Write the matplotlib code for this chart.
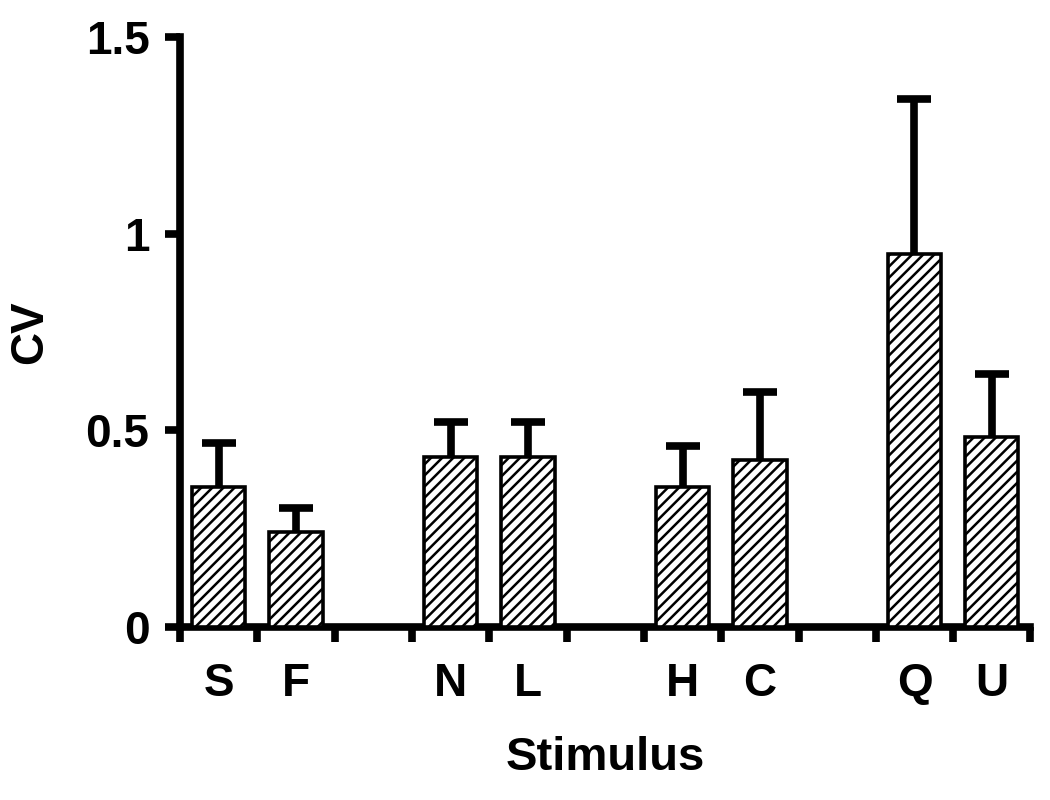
import numpy as np
import matplotlib
matplotlib.use("Agg")
import matplotlib.pyplot as plt

stimuli = ["S", "F", "N", "L", "H", "C", "Q", "U"]
cv_mean = [0.355, 0.242, 0.433, 0.433, 0.356, 0.425, 0.947, 0.483]
cv_err = [0.113, 0.061, 0.089, 0.089, 0.105, 0.173, 0.394, 0.161]

plt.rcParams["font.family"] = ["Liberation Sans", "DejaVu Sans"]
plt.rcParams["font.weight"] = "bold"
plt.rcParams["hatch.linewidth"] = 1.8
plt.rcParams["hatch.color"] = "black"

# pairs of bars separated by an empty slot
x = np.array([3 * (i // 2) + (i % 2) for i in range(len(stimuli))])

fig = plt.figure(figsize=(10.5, 8), dpi=100)
ax = fig.add_axes([0.1714, 0.216, 0.81, 0.738])

ax.bar(x, cv_mean, width=0.69, color="white", edgecolor="black",
       linewidth=2.6, hatch="///", zorder=3)
eb = ax.errorbar(x, cv_mean, yerr=[np.zeros(len(x)), cv_err], fmt="none",
                 ecolor="black", elinewidth=5.5, capsize=12, capthick=5.5,
                 zorder=2)
eb[1][0].set_visible(False)  # only the upper cap

ax.set_xlim(-0.5, 10.5)
ax.set_ylim(0, 1.5)
ax.set_yticks([0, 0.5, 1, 1.5])
ax.set_yticklabels(["0", "0.5", "1", "1.5"])
ax.set_xticks(x)
ax.set_xticklabels(stimuli)
ax.set_xticks(np.arange(-0.5, 11, 1), minor=True)

for side in ["top", "right"]:
    ax.spines[side].set_visible(False)
for side in ["left", "bottom"]:
    ax.spines[side].set_linewidth(5.5)

ax.tick_params(axis="x", which="major", length=0, pad=25, labelsize=33)
ax.tick_params(axis="x", which="minor", length=11, width=5.5, direction="out")
ax.tick_params(axis="y", length=11, width=5.5, pad=11, labelsize=33)

ax.set_xlabel("Stimulus", fontsize=34, fontweight="bold", labelpad=22)
ax.set_ylabel("CV", fontsize=33, fontweight="bold", labelpad=24)

fig.savefig("out.png", dpi=100)
